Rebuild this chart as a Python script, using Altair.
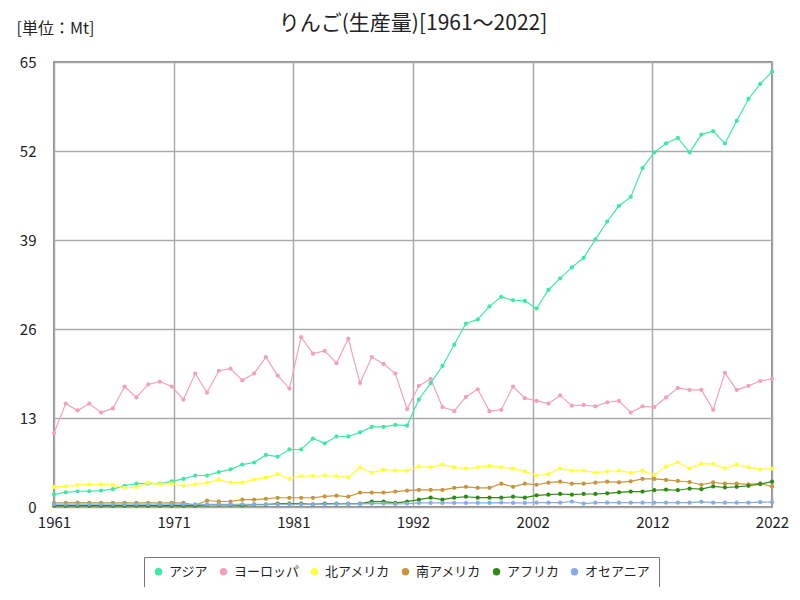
import altair as alt
import pandas as pd

years = list(range(1961, 2023))

asia = [1.85, 2.15, 2.3, 2.3, 2.4, 2.6, 3.1, 3.4, 3.45, 3.4,
        3.75, 4.1, 4.6, 4.6, 5.1, 5.5, 6.2, 6.5, 7.6, 7.35,
        8.4, 8.4, 10.0, 9.3, 10.3, 10.3, 10.9, 11.7, 11.7, 12.0,
        11.9, 15.7, 18.1, 20.6, 23.7, 26.8, 27.4, 29.3, 30.7, 30.2,
        30.1, 29.0, 31.7, 33.4, 35.0, 36.4, 39.1, 41.7, 44.0, 45.3,
        49.5, 51.8, 53.1, 53.9, 51.8, 54.4, 54.9, 53.1, 56.4, 59.6,
        61.8, 63.6]
europe = [10.8, 15.1, 14.1, 15.1, 13.8, 14.4, 17.6, 16.0, 17.9, 18.3,
          17.6, 15.7, 19.5, 16.7, 19.9, 20.2, 18.5, 19.5, 21.9, 19.2,
          17.3, 24.8, 22.4, 22.8, 21.0, 24.6, 18.1, 21.9, 20.9, 19.5,
          14.3, 17.7, 18.7, 14.6, 14.0, 16.1, 17.2, 14.0, 14.2, 17.6,
          15.9, 15.5, 15.1, 16.3, 14.8, 14.9, 14.7, 15.3, 15.5, 13.8,
          14.7, 14.6, 16.0, 17.4, 17.1, 17.1, 14.2, 19.6, 17.1, 17.7,
          18.4, 18.7]
north_america = [2.9, 3.0, 3.2, 3.3, 3.3, 3.2, 2.8, 2.85, 3.55, 3.3,
                 3.4, 3.1, 3.3, 3.55, 4.0, 3.55, 3.55, 4.0, 4.3, 4.8,
                 4.1, 4.5, 4.5, 4.6, 4.5, 4.3, 5.8, 5.0, 5.45, 5.3,
                 5.3, 5.9, 5.8, 6.2, 5.8, 5.65, 5.8, 6.0, 5.8, 5.65,
                 5.2, 4.6, 4.8, 5.65, 5.3, 5.3, 5.0, 5.2, 5.3, 5.0,
                 5.3, 4.7, 5.9, 6.5, 5.65, 6.3, 6.3, 5.65, 6.2, 5.8,
                 5.5, 5.6]
south_america = [0.6, 0.6, 0.65, 0.6, 0.6, 0.62, 0.6, 0.62, 0.6, 0.62,
                 0.6, 0.62, 0.25, 0.95, 0.8, 0.8, 1.07, 1.07, 1.2, 1.35,
                 1.35, 1.35, 1.35, 1.55, 1.65, 1.5, 2.1, 2.1, 2.1, 2.25,
                 2.4, 2.5, 2.5, 2.5, 2.8, 2.95, 2.8, 2.8, 3.4, 2.95,
                 3.4, 3.25, 3.55, 3.7, 3.4, 3.4, 3.55, 3.7, 3.6, 3.75,
                 4.1, 4.1, 3.95, 3.8, 3.65, 3.25, 3.6, 3.4, 3.4, 3.3,
                 3.45, 3.0]
africa = [0.2, 0.2, 0.2, 0.2, 0.2, 0.2, 0.2, 0.2, 0.2, 0.2,
          0.2, 0.2, 0.2, 0.3, 0.3, 0.3, 0.25, 0.35, 0.35, 0.5,
          0.5, 0.5, 0.4, 0.5, 0.5, 0.5, 0.5, 0.78, 0.78, 0.6,
          0.78, 1.07, 1.36, 1.07, 1.36, 1.5, 1.36, 1.36, 1.36, 1.5,
          1.36, 1.7, 1.8, 1.9, 1.8, 1.9, 1.9, 2.0, 2.15, 2.25,
          2.25, 2.45, 2.55, 2.45, 2.7, 2.6, 3.0, 2.85, 2.95, 3.1,
          3.35, 3.7]
oceania = [0.4, 0.4, 0.4, 0.4, 0.4, 0.4, 0.4, 0.4, 0.4, 0.4,
           0.4, 0.4, 0.4, 0.4, 0.4, 0.4, 0.4, 0.4, 0.4, 0.4,
           0.4, 0.4, 0.4, 0.4, 0.45, 0.45, 0.45, 0.5, 0.5, 0.45,
           0.5, 0.6, 0.6, 0.6, 0.6, 0.6, 0.6, 0.6, 0.65, 0.6,
           0.6, 0.63, 0.63, 0.63, 0.8, 0.5, 0.63, 0.63, 0.63, 0.63,
           0.63, 0.63, 0.63, 0.63, 0.63, 0.75, 0.63, 0.63, 0.63, 0.63,
           0.7, 0.7]

regions = ["アジア", "ヨーロッパ", "北アメリカ", "南アメリカ", "アフリカ", "オセアニア"]
colors = ["#3EE8A6", "#F2A2B8", "#FFFF3A", "#C8953A", "#2E8B12", "#85ADE6"]
series = [asia, europe, north_america, south_america, africa, oceania]

y_ticks = [0, 13, 26, 39, 52, 65]
x_ticks = [1961 + k * 61 / 6 for k in range(7)]

rows = []
for name, vals in zip(regions, series):
    for yr, v in zip(years, vals):
        rows.append({"year": yr, "value": v, "region": name})
df = pd.DataFrame(rows)

FONT = "Noto Sans CJK JP"

x_enc = alt.X("year:Q",
              scale=alt.Scale(domain=[1961, 2022], nice=False, zero=False),
              axis=alt.Axis(values=x_ticks, labelExpr="toString(round(datum.value))",
                            title=None, grid=True, gridColor="#AAAAAA", gridWidth=1.5,
                            ticks=False, domain=False, labelFontSize=15, labelFont=FONT,
                            labelColor="#222222", labelPadding=8, labelFlush=False))
y_enc = alt.Y("value:Q",
              scale=alt.Scale(domain=[0, 65], nice=False),
              axis=alt.Axis(values=y_ticks, title="[単位：Mt]", titleAngle=0,
                            titleAlign="left", titleBaseline="middle",
                            titleX=-38, titleY=-34, titleFont=FONT, titleFontSize=16,
                            titleFontWeight="normal", titleColor="#222222",
                            grid=True, gridColor="#AAAAAA", gridWidth=1.5,
                            ticks=False, domain=False, labelFontSize=15, labelFont=FONT,
                            labelColor="#222222", labelPadding=18))
color_enc = alt.Color("region:N",
                      scale=alt.Scale(domain=regions, range=colors),
                      legend=alt.Legend(title=None, orient="none", legendX=90, legendY=495,
                                        direction="horizontal", columns=6,
                                        symbolType="circle", symbolSize=55,
                                        symbolStrokeWidth=0, labelFont=FONT,
                                        labelFontSize=13, labelColor="#222222",
                                        strokeColor="#777777", fillColor="white",
                                        padding=8, columnPadding=8, symbolOffset=0))

base = alt.Chart(df).encode(x=x_enc, y=y_enc, color=color_enc,
                            order=alt.Order("year:Q"))
lines = base.mark_line(strokeWidth=1.2)
points = base.mark_point(filled=True, size=18, opacity=1)

chart = alt.layer(lines, points).properties(
    width=718, height=445,
    title=alt.Title("りんご(生産量)[1961～2022]", font=FONT, fontSize=21,
                    fontWeight="normal", color="#222222", anchor="middle",
                    offset=0, dy=14),
    autosize="none",
    padding={"left": 46, "top": 54, "right": 20, "bottom": 80},
).configure_view(stroke="#666666", strokeWidth=1.5)

chart.save("out.html", embed_options={"renderer": "svg", "actions": False})
